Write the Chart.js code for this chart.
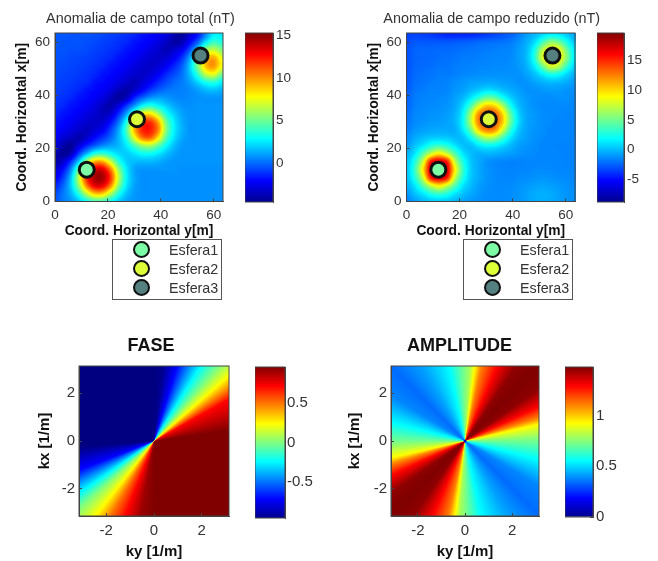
<!DOCTYPE html>
<html>
<head>
<meta charset="utf-8">
<title>Anomalia</title>
<script src="https://cdn.jsdelivr.net/npm/chart.js@4"></script>
<style>
    body { margin: 0; background: #fff; overflow: hidden; font-family: "Liberation Sans", Arial, sans-serif; }
    canvas { position: absolute; filter: blur(0.4px); }
    .legend-box { position: absolute; width: 108px; height: 59px; border: 1px solid #555; background: #fff; color: #333; font-size: 14.3px; filter: blur(0.4px); }
    .legend-dot { position: absolute; left: 20px; width: 13px; height: 13px; border: 2.5px solid #111; border-radius: 50%; }
    .legend-name { position: absolute; left: 56px; line-height: 17px; }
</style>
</head>
<body>
<script>
// Values

const sphereNames = ['Esfera1', 'Esfera2', 'Esfera3'];
const sphereColors = ['#7dffa5', '#dcff38', '#558080'];
const sphereY = [12, 31, 55];
const sphereX = [12, 31, 55];

const spatialTicks = [0, 20, 40, 60];
const waveTicks = [-2, 0, 2];

const totalRange = [-4.6, 15.3];
const reducedRange = [-8.8, 19.6];
const faseRange = [-0.95, 0.95];
const ampRange = [0, 1.48];

const totalBarTicks = [0, 5, 10, 15];
const reducedBarTicks = [-5, 0, 5, 10, 15];
const faseBarTicks = [-0.5, 0, 0.5];
const ampBarTicks = [0, 0.5, 1];

const gridStep = 3; // metres between grid samples, rows go x = 0..63, columns y = 0..63

const totalField = [
    [-.5,.3,.8,1.8,3.1,4.2,4.1,3.1,1.9,1.1,.8,.7,.7,.7,.7,.7,.7,.7,.7,.7,.7,.7],
    [-.7,.2,1.4,3.6,6.7,9,8.9,6.4,3.5,1.7,.9,.7,.7,.7,.7,.7,.7,.7,.7,.7,.7,.7],
    [-1.5,-.2,1.9,5.7,10.4,13.2,13.1,10.3,5.6,2.5,1.1,.7,.7,.7,.7,.7,.7,.7,.7,.7,.7,.7],
    [-2.3,-1,1.7,6.6,12,14.4,14.5,11.8,6.7,2.8,1.2,.7,.7,.7,.7,.7,.7,.7,.7,.7,.7,.7],
    [-2.9,-1.9,.6,5.1,10.4,13.4,13.4,10.5,5.8,2.6,1.1,.8,.8,.8,.8,.8,.7,.7,.7,.7,.7,.7],
    [-3.8,-3.1,-1.2,2,6.3,9.4,9.5,6.9,3.7,2,1.6,1.5,1.5,1.3,1,.8,.8,.8,.8,.8,.8,.8],
    [-3.6,-4.1,-3.5,-.9,1.5,3.6,4,3.1,2.2,1.9,2.4,3,3,2.5,1.7,1.1,.8,.8,.8,.8,.8,.8],
    [-2.9,-3.7,-4.1,-2.8,-1.4,-.3,.6,1.1,1.5,2.5,4.2,5.8,6.1,4.7,2.9,1.6,.9,.8,.8,.8,.8,.8],
    [-2.3,-2.9,-3.3,-3.7,-3,-2,-1.1,-.1,1.4,3.5,7.4,10.4,10.8,8.2,4.5,2.3,1.2,.8,.8,.8,.8,.8],
    [-2,-2.3,-2.7,-3.1,-3.4,-2.9,-2.3,-.9,1.1,4.3,9.2,12.1,12.3,10.2,5.5,2.7,1.4,.8,.8,.8,.8,.8],
    [-1.8,-2,-2.3,-2.7,-3,-3.2,-3,-1.9,.1,3.3,8.3,11.5,11.8,9.5,5.1,2.6,1.3,.8,.8,.8,.8,.8],
    [-1.4,-1.8,-2,-2.3,-2.7,-3,-3.4,-3,-1.3,1.1,4.5,7.8,8.3,6.2,3.4,2,1.1,.8,.8,.8,.8,.8],
    [-1.2,-1.4,-1.8,-2,-2.3,-2.7,-3.3,-3.7,-2.7,-1,.9,2.9,3.7,2.9,2,1.2,.8,.7,.8,.8,.8,.8],
    [-1,-1.2,-1.4,-1.8,-2,-2.3,-2.7,-3.4,-4,-3.3,-1.4,-.1,.8,1.1,.9,.6,.5,.6,.7,.8,.8,.8],
    [-.9,-1,-1.2,-1.4,-1.8,-2,-2.3,-2.7,-3.4,-3.8,-3.1,-2.2,-1.1,-.4,.1,.3,.4,.6,1,1.5,1.7,1.4],
    [-.8,-.9,-1,-1.2,-1.3,-1.8,-2,-2.3,-2.7,-3.1,-3.5,-2.9,-2.3,-1.4,-.7,-.1,.3,1,2.1,3.3,3.7,2.8],
    [-.7,-.8,-.9,-1,-1.2,-1.4,-1.8,-2,-2.3,-2.7,-3,-3.2,-2.9,-2.3,-1.4,-.7,.1,1.6,3.9,6.7,7.4,5.3],
    [-.6,-.7,-.8,-.9,-1,-1.2,-1.4,-1.8,-2,-2.3,-2.7,-3,-3.2,-2.9,-2.3,-1.4,-.3,1.9,5.4,9,9.8,7.8],
    [-.6,-.6,-.7,-.8,-.9,-1,-1.2,-1.4,-1.8,-2,-2.3,-2.7,-3,-3.2,-2.9,-2.3,-1.1,1.2,4.9,8.6,9.5,7.5],
    [-.5,-.5,-.6,-.6,-.7,-.9,-1,-1.2,-1.4,-1.8,-2,-2.3,-2.7,-3,-3.5,-3,-2.3,-.4,2.4,6,6.8,5.5],
    [-.4,-.5,-.5,-.5,-.6,-.7,-.9,-1,-1.2,-1.4,-1.8,-2,-2.3,-2.7,-3.2,-3.9,-3.5,-2,-.2,2.5,4,3.5],
    [-.4,-.4,-.5,-.5,-.5,-.6,-.7,-.9,-1,-1.2,-1.4,-1.8,-2,-2.3,-2.7,-3.5,-4,-3,-1.8,.5,2.5,2.5]
];

const reducedField = [
    [-1.6,-.8,-.1,.3,.5,.3,-.1,-.6,-1,-1.2,-1.4,-1.4,-1.4,-1.3,-1.1,-.8,-.5,-.4,-.5,-.8,-1.1,-1.3],
    [-1,.2,1.3,2.8,3.5,2.8,1.3,.2,-.5,-1,-1.3,-1.4,-1.4,-1.3,-1.1,-.8,-.5,-.4,-.5,-.8,-1.1,-1.3],
    [-.3,1.3,4.2,7.5,9.5,7.5,4.2,1.3,0,-.8,-1.2,-1.4,-1.4,-1.4,-1.2,-1,-.8,-.7,-.8,-1,-1.2,-1.4],
    [.1,2.8,7.5,15.5,17,15.5,7.5,2.8,.4,-.5,-1.1,-1.4,-1.5,-1.5,-1.4,-1.3,-1.2,-1.1,-1.2,-1.3,-1.4,-1.5],
    [.3,3.5,9.5,17,18,17,9.5,3.5,.5,-.5,-1.1,-1.4,-1.5,-1.6,-1.5,-1.5,-1.4,-1.4,-1.4,-1.5,-1.5,-1.6],
    [.1,2.8,7.5,15.5,17,15.5,7.5,2.8,.4,-.5,-1.1,-1.4,-1.5,-1.6,-1.6,-1.5,-1.5,-1.5,-1.5,-1.5,-1.6,-1.6],
    [-.3,1.3,4.2,7.5,9.5,7.5,4.2,1.3,.1,-.3,-.2,-.3,-.6,-.8,-1.1,-1.3,-1.4,-1.5,-1.5,-1.5,-1.6,-1.6],
    [-1,.2,1.3,2.8,3.5,2.8,1.3,.2,.1,1.2,1.8,1.6,.8,-.1,-.8,-1.1,-1.3,-1.5,-1.5,-1.6,-1.6,-1.6],
    [-1.3,-.5,0,.4,.5,.4,0,.1,1.9,4.8,6.8,6.4,3.8,1.3,-.2,-.8,-1.2,-1.4,-1.5,-1.5,-1.5,-1.6],
    [-1.7,-1.1,-.8,-.6,-.5,-.5,-.4,1.2,4.8,10.2,12.5,12,8,3.2,.4,-.7,-1.1,-1.3,-1.5,-1.5,-1.5,-1.6],
    [-2,-1.4,-1.2,-1,-.9,-.7,-.2,1.8,6.8,12.5,13.5,13.5,10.5,4.9,1,-.6,-1,-1.3,-1.4,-1.5,-1.5,-1.6],
    [-2.2,-1.5,-1.4,-1.2,-1.1,-.9,-.3,1.6,6.4,12,13.5,13.5,10,4.6,.8,-.6,-1,-1.3,-1.4,-1.4,-1.5,-1.5],
    [-2.4,-1.7,-1.5,-1.4,-1.3,-1.1,-.6,.8,3.8,8,10.5,10,6.8,2.5,.1,-.8,-1.2,-1.4,-1.4,-1.4,-1.4,-1.5],
    [-2.5,-1.8,-1.6,-1.5,-1.4,-1.3,-.8,-.1,1.3,3.2,4.9,4.6,2.5,.7,-.4,-.9,-1.2,-1.3,-1.3,-1.2,-1.2,-1.4],
    [-2.7,-2,-1.8,-1.6,-1.6,-1.5,-1.1,-.8,-.2,.4,1,.8,.1,-.4,-.8,-1.2,-1.2,-1,-.9,-.9,-1.1,-1.3],
    [-2.8,-2.2,-2,-1.8,-1.7,-1.6,-1.3,-1.1,-.8,-.7,-.6,-.6,-.8,-.9,-1.2,-1.1,-.7,-.3,0,-.1,-.4,-.9],
    [-2.9,-2.3,-2.1,-2,-1.8,-1.8,-1.7,-1.5,-1.4,-1.3,-1.2,-1.2,-1.2,-1.2,-1.2,-.7,.1,1.4,2.6,2.3,.9,-.2],
    [-3,-2.4,-2.3,-2.2,-2,-2,-1.8,-1.7,-1.6,-1.5,-1.5,-1.4,-1.4,-1.3,-1,-.3,1.4,4.7,7.8,7,3.6,.7],
    [-3,-2.5,-2.4,-2.3,-2.2,-2.1,-2,-1.8,-1.8,-1.7,-1.6,-1.5,-1.5,-1.4,-.9,0,2.6,7.8,9,9,5.8,1.4],
    [-3,-2.5,-2.4,-2.4,-2.3,-2.3,-2.2,-2.1,-2,-1.9,-1.8,-1.7,-1.6,-1.5,-.9,-.1,2.3,7,9,9,5.2,1.3],
    [-3.2,-2.8,-2.8,-2.8,-2.8,-2.8,-2.7,-2.6,-2.5,-2.3,-2.2,-2.1,-2,-1.8,-1.2,-.4,.9,3.6,5.8,5.2,2.6,.4],
    [-3.5,-3.4,-3.5,-3.7,-4,-4.3,-4.3,-4.3,-4.2,-4,-3.7,-3.4,-3,-2.6,-1.9,-.9,-.2,.7,1.4,1.3,.4,-.5]
];

// FASE and AMPLITUDE only change with direction, so they are read along rays (degrees from +ky)
const faseAngles = [0, 8, 29, 41, 49, 58, 73, 83, 90, 180, 184, 201, 215, 222, 232, 240, 249, 260, 270, 360];
const faseValues = [.95, .95, .71, .24, 0, -.24, -.71, -.92, -.95, -.95, -.95, -.71, -.24, 0, .24, .5, .71, .9, .95, .95];

const ampAngles = [0, 4, 12.5, 17, 25, 35, 45, 55, 66, 77.5, 82.5, 86, 90, 102, 120, 135, 149, 166, 180,
    184, 192.5, 197, 205, 215, 225, 235, 246, 257.5, 262.5, 266, 270, 282, 300, 315, 329, 346, 360];
const ampValues = [.72, .78, .925, 1.1, 1.3, 1.46, 1.48, 1.46, 1.3, 1.11, .925, .8, .74, .555, .42, .34, .38, .555, .72,
    .78, .925, 1.1, 1.3, 1.46, 1.48, 1.46, 1.3, 1.11, .925, .8, .74, .555, .42, .34, .38, .555, .72];

const jetStops = [[0, '#00008f'], [.125, '#0000ff'], [.375, '#00ffff'], [.625, '#ffff00'], [.875, '#ff0000'], [1, '#800000']];

// Helpers

function clamp01(v) {
    return Math.max(0, Math.min(1, v));
}

function catmull(a, b, c, d, t) {
    return b + 0.5 * t * (c - a + t * (2 * a - 5 * b + 4 * c - d + t * (3 * (b - c) + d - a)));
}

// Smooth read of a sampled grid, like shading interp in the original figure
function sampleGrid(grid, xv, yv) {
    const last = grid.length - 1;
    const gx = Math.max(0, Math.min(last - 1e-6, xv / gridStep));
    const gy = Math.max(0, Math.min(last - 1e-6, yv / gridStep));
    const i = Math.floor(gx);
    const j = Math.floor(gy);
    const rowAt = n => grid[Math.max(0, Math.min(last, n))];
    const across = r => catmull(r[Math.max(0, j - 1)], r[j], r[j + 1], r[Math.min(last, j + 2)], gy - j);
    return catmull(across(rowAt(i - 1)), across(rowAt(i)), across(rowAt(i + 1)), across(rowAt(i + 2)), gx - i);
}

function sampleRays(angles, values, xv, yv) {
    let deg = Math.atan2(yv, xv) * 180 / Math.PI;
    if (deg < 0) deg += 360;
    let k = 0;
    while (k < angles.length - 2 && angles[k + 1] < deg) k++;
    const t = (deg - angles[k]) / (angles[k + 1] - angles[k]);
    return values[k] + (values[k + 1] - values[k]) * t;
}

// Paints the field inside the chart area, inverting pixels through the chart scales
function fieldPlugin(valueAt, range) {
    return {
        id: 'fieldPaint',
        beforeDraw(chart) {
            const area = chart.chartArea;
            const w = Math.round(area.right - area.left);
            const h = Math.round(area.bottom - area.top);
            const img = chart.ctx.createImageData(w, h);
            for (let py = 0; py < h; py++) {
                const yv = chart.scales.y.getValueForPixel(area.top + py + 0.5);
                for (let px = 0; px < w; px++) {
                    const xv = chart.scales.x.getValueForPixel(area.left + px + 0.5);
                    const f = clamp01((valueAt(xv, yv) - range[0]) / (range[1] - range[0]));
                    const n = (py * w + px) * 4;
                    img.data[n] = 255 * clamp01(1.5 - Math.abs(4 * f - 3));
                    img.data[n + 1] = 255 * clamp01(1.5 - Math.abs(4 * f - 2));
                    img.data[n + 2] = 255 * clamp01(1.5 - Math.abs(4 * f - 1));
                    img.data[n + 3] = 255;
                }
            }
            chart.ctx.putImageData(img, Math.round(area.left), Math.round(area.top));
        }
    };
}

const areaBorder = {
    id: 'areaBorder',
    afterDraw(chart) {
        const area = chart.chartArea;
        chart.ctx.save();
        chart.ctx.strokeStyle = '#444';
        chart.ctx.lineWidth = 1;
        chart.ctx.strokeRect(area.left, area.top, area.right - area.left, area.bottom - area.top);
        chart.ctx.restore();
    }
};

function addCanvas(left, top, width, height) {
    const canvas = document.createElement('canvas');
    canvas.width = width;
    canvas.height = height;
    canvas.style.left = left + 'px';
    canvas.style.top = top + 'px';
    document.body.appendChild(canvas);
    return canvas;
}

function axisOptions(cfg, axis) {
    const horizontal = axis === 'x';
    return {
        type: 'linear',
        min: cfg.limits[0],
        max: cfg.limits[1],
        afterBuildTicks: scale => { scale.ticks = cfg.ticks.map(value => ({ value })); },
        afterFit: scale => {
            if (horizontal) scale.height = cfg.xAxisSize;
            else scale.width = cfg.yAxisSize;
        },
        grid: { drawOnChartArea: false, tickLength: -3, color: '#444' },
        border: { color: '#444' },
        ticks: {
            autoSkip: false,
            maxRotation: 0,
            color: '#333',
            padding: horizontal ? cfg.xTickPad : cfg.yTickPad,
            font: { size: cfg.tickSize },
            callback: v => String(v)
        },
        title: {
            display: true,
            text: horizontal ? cfg.xTitle : cfg.yTitle,
            color: '#111',
            font: { size: cfg.axisTitleSize, weight: 'bold' },
            padding: horizontal ? cfg.xTitlePad : cfg.yTitlePad
        }
    };
}

function addPanel(cfg) {
    const width = cfg.plotRight - cfg.left + 70;
    const height = cfg.plotBottom - cfg.top + cfg.xAxisSize;
    cfg.yAxisSize = cfg.plotLeft - cfg.left;
    const datasets = [];
    if (cfg.spheres) {
        datasets.push({
            data: sphereY.map((y, k) => ({ x: y, y: sphereX[k] })),
            pointRadius: 7.5,
            pointBorderWidth: 3,
            pointBorderColor: '#111',
            pointBackgroundColor: sphereColors
        });
    }
    if (cfg.centerDot) {
        datasets.push({ data: [{ x: 0, y: 0 }], pointRadius: 1.5, pointBorderWidth: 0, pointBackgroundColor: '#0000c0' });
    }
    return new Chart(addCanvas(cfg.left, cfg.top, width, height), {
        type: 'scatter',
        data: { datasets },
        options: {
            responsive: false,
            animation: false,
            layout: { autoPadding: false, padding: { right: 70 } },
            scales: { x: axisOptions(cfg, 'x'), y: axisOptions(cfg, 'y') },
            plugins: {
                legend: { display: false },
                tooltip: { enabled: false },
                title: {
                    display: true,
                    text: cfg.title,
                    color: cfg.titleColor,
                    font: { size: cfg.titleSize, weight: cfg.titleWeight },
                    padding: cfg.titlePad
                }
            }
        },
        plugins: [fieldPlugin(cfg.valueAt, cfg.range), areaBorder, {
            id: 'titleShift',
            afterLayout(chart) {
                const boxMiddle = (chart.titleBlock.left + chart.titleBlock.right) / 2;
                const dx = cfg.titleCenter - cfg.left - boxMiddle;
                chart.titleBlock.left += dx;
                chart.titleBlock.right += dx;
            }
        }]
    });
}

function addColorbar(cfg) {
    const pad = 9;
    const barWidth = cfg.right - cfg.left;
    const canvas = addCanvas(cfg.left, cfg.top - pad, barWidth + 40, cfg.bottom - cfg.top + pad * 2);
    return new Chart(canvas, {
        type: 'bar',
        data: {
            labels: [''],
            datasets: [{
                data: [cfg.range],
                barPercentage: 1,
                categoryPercentage: 1,
                backgroundColor(context) {
                    const area = context.chart.chartArea;
                    if (!area) return '#000';
                    const gradient = context.chart.ctx.createLinearGradient(0, area.bottom, 0, area.top);
                    jetStops.forEach(stop => gradient.addColorStop(stop[0], stop[1]));
                    return gradient;
                }
            }]
        },
        options: {
            responsive: false,
            animation: false,
            layout: { autoPadding: false, padding: { top: pad, bottom: pad } },
            scales: {
                x: { display: false },
                y: {
                    position: 'right',
                    min: cfg.range[0],
                    max: cfg.range[1],
                    afterBuildTicks: scale => { scale.ticks = cfg.ticks.map(value => ({ value })); },
                    afterFit: scale => { scale.width = 40; scale.paddingTop = 0; scale.paddingBottom = 0; },
                    grid: { drawOnChartArea: false, tickLength: -3, color: '#444' },
                    border: { color: '#444' },
                    ticks: { color: '#333', padding: cfg.tickPad, font: { size: cfg.tickSize }, callback: v => String(v) }
                }
            },
            plugins: { legend: { display: false }, tooltip: { enabled: false } }
        },
        plugins: [areaBorder]
    });
}

function addLegend(left, top) {
    const box = document.createElement('div');
    box.className = 'legend-box';
    box.style.left = left + 'px';
    box.style.top = top + 'px';
    sphereNames.forEach((name, k) => {
        const dot = document.createElement('div');
        dot.className = 'legend-dot';
        dot.style.top = (1 + k * 19) + 'px';
        dot.style.background = sphereColors[k];
        const label = document.createElement('div');
        label.className = 'legend-name';
        label.style.top = (2 + k * 19) + 'px';
        label.textContent = name;
        box.appendChild(dot);
        box.appendChild(label);
    });
    document.body.appendChild(box);
}

Chart.defaults.font.family = '"Liberation Sans", Arial, sans-serif';

const topStyle = {
    top: 0, plotBottom: 201.5, xAxisSize: 37.5, limits: [0, 63.5], ticks: spatialTicks,
    tickSize: 13.5, axisTitleSize: 13.8, xTickPad: 9, yTickPad: 8, xTitlePad: { top: 0, bottom: 0 },
    xTitle: 'Coord. Horizontal y[m]', yTitle: 'Coord. Horizontal x[m]',
    titleColor: '#333', titleSize: 14.4, titleWeight: 'normal', titlePad: { top: 10.4, bottom: 5.32 }, spheres: true
};
const bottomStyle = {
    top: 330, plotBottom: 516, xAxisSize: 45, limits: [-3.14, 3.14], ticks: waveTicks,
    tickSize: 15, axisTitleSize: 15, xTickPad: 9, yTickPad: 7, xTitlePad: { top: 0, bottom: 0 },
    xTitle: 'ky [1/m]', yTitle: 'kx [1/m]',
    titleColor: '#111', titleSize: 18, titleWeight: 'bold', titlePad: { top: 4.9, bottom: 9.5 }
};

addPanel({
    ...topStyle, left: 0, plotLeft: 55, plotRight: 223, yTitlePad: { top: 14, bottom: 0 },
    title: 'Anomalia de campo total (nT)', titleCenter: 140.5, range: totalRange,
    valueAt: (xv, yv) => sampleGrid(totalField, yv, xv)
});
addPanel({
    ...topStyle, left: 350, plotLeft: 406.5, plotRight: 575, yTitlePad: { top: 16, bottom: 0 },
    title: 'Anomalia de campo reduzido (nT)', titleCenter: 491.7, range: reducedRange,
    valueAt: (xv, yv) => sampleGrid(reducedField, yv, xv)
});
addPanel({
    ...bottomStyle, left: 20, plotLeft: 79, plotRight: 229, yTitlePad: { top: 16, bottom: 0 },
    title: 'FASE', titleCenter: 151, range: faseRange,
    valueAt: (xv, yv) => sampleRays(faseAngles, faseValues, xv, yv)
});
addPanel({
    ...bottomStyle, left: 340, plotLeft: 391, plotRight: 539, yTitlePad: { top: 6, bottom: 0 },
    title: 'AMPLITUDE', titleCenter: 459.5, range: ampRange, centerDot: true,
    valueAt: (xv, yv) => sampleRays(ampAngles, ampValues, xv, yv)
});

addColorbar({ left: 245, right: 273, top: 33, bottom: 202, range: totalRange, ticks: totalBarTicks, tickSize: 13.5, tickPad: 6 });
addColorbar({ left: 597, right: 624, top: 33, bottom: 202, range: reducedRange, ticks: reducedBarTicks, tickSize: 13.5, tickPad: 6 });
addColorbar({ left: 255, right: 285, top: 367, bottom: 518, range: faseRange, ticks: faseBarTicks, tickSize: 15, tickPad: 5 });
addColorbar({ left: 565, right: 593, top: 367, bottom: 517, range: ampRange, ticks: ampBarTicks, tickSize: 15, tickPad: 6 });

addLegend(112, 239);
addLegend(463, 239);
</script>
</body>
</html>
